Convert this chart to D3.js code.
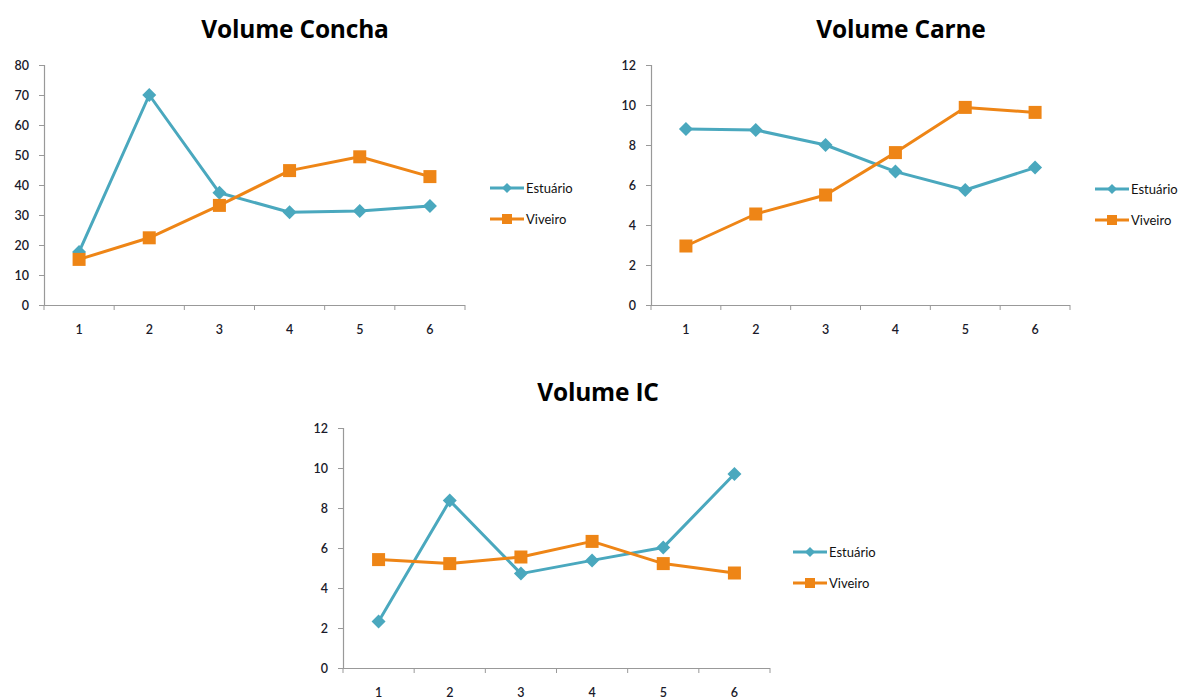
<!DOCTYPE html>
<html><head><meta charset="utf-8">
<script src="https://cdn.jsdelivr.net/npm/d3@7"></script>
<style>body{margin:0;background:#fff}svg{display:block}</style>
</head><body>
<svg id="c" width="1187" height="700"></svg>
<script>
const categories = ["1","2","3","4","5","6"];
const seriesNames = ["Estuário","Viveiro"];
const conchaEstuario = [17.7, 70, 37.4, 30.9, 31.3, 33];
const conchaViveiro  = [15.2, 22.4, 33.2, 44.8, 49.4, 42.8];
const carneEstuario = [8.8, 8.75, 8.0, 6.67, 5.75, 6.87];
const carneViveiro  = [2.95, 4.55, 5.5, 7.62, 9.88, 9.63];
const icEstuario = [2.33, 8.37, 4.72, 5.38, 6.03, 9.7];
const icViveiro  = [5.42, 5.22, 5.55, 6.33, 5.22, 4.75];
const conchaTicks = [0,10,20,30,40,50,60,70,80];
const carneTicks = [0,2,4,6,8,10,12];
const icTicks = [0,2,4,6,8,10,12];

const colors = ["#4AA8BE", "#EE8516"];
const svg = d3.select("#c");
const FONT = "Lato, 'Open Sans', sans-serif";
const TFONT = "'Open Sans', Lato, sans-serif";

const charts = [
  {title:"Volume Concha", titleX:295, titleY:38, x0:44, x1:465, yTop:65, yBot:305, max:80, ticks:conchaTicks,
   data:[conchaEstuario, conchaViveiro], legX:490, legY:188},
  {title:"Volume Carne", titleX:901, titleY:38, x0:651, x1:1070, yTop:65, yBot:305, max:12, ticks:carneTicks,
   data:[carneEstuario, carneViveiro], legX:1095, legY:189},
  {title:"Volume IC", titleX:598, titleY:401, x0:343, x1:770, yTop:428, yBot:668, max:12, ticks:icTicks,
   data:[icEstuario, icViveiro], legX:793, legY:552}
];

const diamond = s => `M0,${-s}L${s},0L0,${s}L${-s},0Z`;

charts.forEach(c => {
  const g = svg.append("g");
  const x = d3.scaleBand().domain(categories).range([c.x0, c.x1]);
  const y = d3.scaleLinear().domain([0, c.max]).range([c.yBot, c.yTop]);

  g.append("text").attr("x", c.titleX).attr("y", c.titleY).attr("text-anchor","middle")
    .attr("font-family", TFONT).attr("font-weight","bold").attr("font-size", 24.5)
    .attr("letter-spacing", -0.2).attr("fill","#000").text(c.title);

  const ya = g.append("g").attr("transform", `translate(${c.x0},0)`)
    .call(d3.axisLeft(y).tickValues(c.ticks).tickSize(5).tickPadding(10));
  const xa = g.append("g").attr("transform", `translate(0,${c.yBot})`)
    .call(d3.axisBottom(x).tickSize(0).tickPadding(20));
  const edges = categories.map(d => x(d)).concat([c.x1]);
  g.selectAll(".xt").data(edges).enter().append("line")
    .attr("x1", d=>d).attr("x2", d=>d).attr("y1", c.yBot).attr("y2", c.yBot+5).attr("stroke","#999");
  [ya, xa].forEach(a => {
    a.select(".domain").attr("stroke","#999").attr("stroke-width",1.2);
    a.selectAll(".tick line").attr("stroke","#999");
    a.selectAll("text").attr("font-family", FONT).attr("font-size", 12.5).attr("font-weight", 600).attr("fill","#1a1a2a");
  });
  ya.selectAll(".domain").attr("d", `M0.5,${c.yTop}V${c.yBot}`);
  xa.selectAll(".domain").attr("d", `M${c.x0},0.5H${c.x1}`);

  const line = d3.line().x((d,i)=>x(categories[i]) + x.bandwidth()/2).y(d=>y(d));
  c.data.forEach((vals, si) => {
    g.append("path").datum(vals).attr("d", line).attr("fill","none")
      .attr("stroke", colors[si]).attr("stroke-width", 3).attr("stroke-linejoin","round");
    const pts = g.selectAll(null).data(vals).enter();
    if (si === 0) {
      pts.append("path").attr("d", diamond(7))
        .attr("transform",(d,i)=>`translate(${x(categories[i])+x.bandwidth()/2},${y(d)})`)
        .attr("fill", colors[si]);
    } else {
      pts.append("rect").attr("width",13).attr("height",13)
        .attr("x",(d,i)=>x(categories[i])+x.bandwidth()/2-6.5).attr("y",d=>y(d)-6.5)
        .attr("fill", colors[si]);
    }
  });

  seriesNames.forEach((name, si) => {
    const ly = c.legY + si*31;
    const lg = g.append("g");
    lg.append("line").attr("x1", c.legX).attr("x2", c.legX+34).attr("y1", ly).attr("y2", ly)
      .attr("stroke", colors[si]).attr("stroke-width", 3);
    if (si === 0) {
      lg.append("path").attr("d", diamond(5)).attr("transform",`translate(${c.legX+17},${ly})`).attr("fill", colors[si]);
    } else {
      lg.append("rect").attr("x", c.legX+12).attr("y", ly-5).attr("width",10).attr("height",10).attr("fill", colors[si]);
    }
    lg.append("text").attr("x", c.legX+36).attr("y", ly+4.5).attr("font-family", FONT)
      .attr("font-size", 13).attr("fill","#111").text(name);
  });
});
</script>
</body></html>
